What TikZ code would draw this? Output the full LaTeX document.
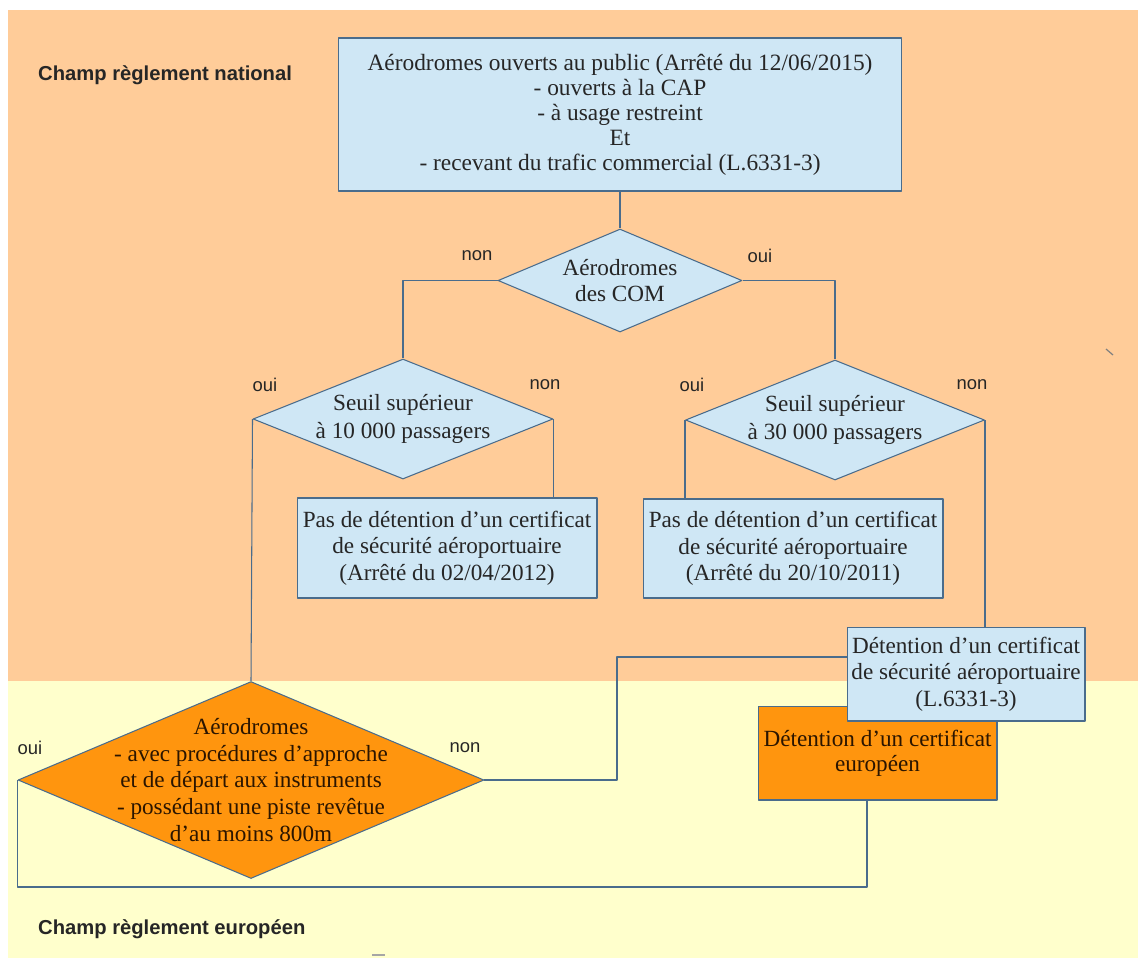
\documentclass[tikz,border=0pt]{standalone}
\usepackage{fontspec}
\setmainfont{Liberation Serif}
\newfontfamily\labelfont{Liberation Sans}
\usetikzlibrary{shapes.geometric}
\definecolor{fondnat}{HTML}{FFCC99}
\definecolor{fondeur}{HTML}{FFFFCC}
\definecolor{bleuclair}{HTML}{CFE7F5}
\definecolor{orangevif}{HTML}{FF950E}
\definecolor{trait}{HTML}{4A6C8C}
\definecolor{brun}{HTML}{2B1500}
\begin{document}
\begin{tikzpicture}[x=0.02cm,y=-0.02cm,line join=round,
		lien/.style={draw=trait,line width=0.6pt},
		boite/.style={rectangle,draw=trait,line width=0.6pt,fill=bleuclair,align=center,inner sep=2pt,text=black!85,font=\fontsize{13.2}{15}\selectfont},
		boiteeur/.style={boite,fill=orangevif,text=brun},
		losange/.style={diamond,draw=trait,line width=0.6pt,fill=bleuclair,inner sep=0pt},
		losangeeur/.style={losange,fill=orangevif},
		texte/.style={align=center,text=black!85,font=\fontsize{13.2}{15.5}\selectfont},
		choix/.style={text=black!85,font=\labelfont\fontsize{10.5}{12}\selectfont},
		champ/.style={anchor=west,text=black!85,font=\labelfont\bfseries\fontsize{11.5}{13}\selectfont}]
				\useasboundingbox (0,0) rectangle (1138,958);
				\fill[white] (0,0) rectangle (1138,958);
				\fill[fondnat] (8,10) rectangle (1138,681);
				\fill[fondeur] (8,681) rectangle (1138,958);
				\node[champ] (national) at (32,75) {Champ règlement national};
				\node[champ] (europeen) at (32,929) {Champ règlement européen};
				\node[boite,minimum width=11.28cm,minimum height=3.06cm,font=\fontsize{13.3}{14.2}\selectfont] (public) at (620,114.5) {Aérodromes ouverts au public (Arrêté du 12/06/2015)\\- ouverts à la CAP\\- à usage restreint\\Et\\- recevant du trafic commercial (L.6331-3)};
				\node[losange,minimum width=4.88cm,minimum height=2.06cm] (com) at (620,280.5) {};
				\node[texte,font=\fontsize{13.2}{14.8}\selectfont] at (com) {Aérodromes\\des COM};
				\node[losange,minimum width=6cm,minimum height=2.4cm] (seuildix) at (403,419) {};
				\node[texte] at (seuildix) {Seuil supérieur\\à 10 000 passagers};
				\node[losange,minimum width=5.98cm,minimum height=2.4cm] (seuiltrente) at (835,420) {};
				\node[texte] at (seuiltrente) {Seuil supérieur\\à 30 000 passagers};
				\node[boite,minimum width=6cm,minimum height=2cm] (pasdix) at (447,548) {Pas de détention d’un certificat\\de sécurité aéroportuaire\\(Arrêté du 02/04/2012)};
				\node[boite,minimum width=6cm,minimum height=1.98cm] (pastrente) at (793,548.5) {Pas de détention d’un certificat\\de sécurité aéroportuaire\\(Arrêté du 20/10/2011)};
				\node[boiteeur,minimum width=4.78cm,minimum height=1.88cm,font=\fontsize{13.2}{14.2}\selectfont] (certeur) at (877.5,753) {Détention d’un certificat\\européen};
				\node[boite,minimum width=4.76cm,minimum height=1.88cm] (certnat) at (966,674) {Détention d’un certificat\\de sécurité aéroportuaire\\(L.6331-3)};
				\node[losangeeur,minimum width=9.32cm,minimum height=3.94cm] (instru) at (251,780) {};
				\node[texte,text=brun,font=\fontsize{13.2}{15.1}\selectfont] at (instru) {Aérodromes\\- avec procédures d’approche\\et de départ aux instruments\\- possédant une piste revêtue\\d’au moins 800m};
				\coordinate (coude) at (617,657);
				\coordinate (bas) at (867,887);
				\draw[lien] (public.south) -- (com.north);
				\draw[lien] (com.west) -| (seuildix.north);
				\draw[lien] (com.east) -| (seuiltrente.north);
				\draw[lien] (seuildix.east) -- (seuildix.east |- pasdix.north);
				\draw[lien] (seuildix.west) -- (instru.north);
				\draw[lien] (seuiltrente.west) -- (seuiltrente.west |- pastrente.north);
				\draw[lien] (seuiltrente.east) -- (seuiltrente.east |- certnat.north);
				\draw[lien] (instru.east) -| (coude) -- (coude -| certnat.west);
				\draw[lien] (instru.west) |- (bas) -- (bas |- certeur.south);
				\node[choix] at (477,256) {non};
				\node[choix] at (760,256) {oui};
				\node[choix] at (265,385) {oui};
				\node[choix] at (545,385) {non};
				\node[choix] at (692,385) {oui};
				\node[choix] at (972,385) {non};
				\node[choix] at (30,748) {oui};
				\node[choix] at (465,748) {non};
				\draw[gray,line width=0.7pt] (1106,349) -- (1113,355);
				\draw[gray!70,line width=1pt] (372,955) -- (385,955);
\end{tikzpicture}
\end{document}
